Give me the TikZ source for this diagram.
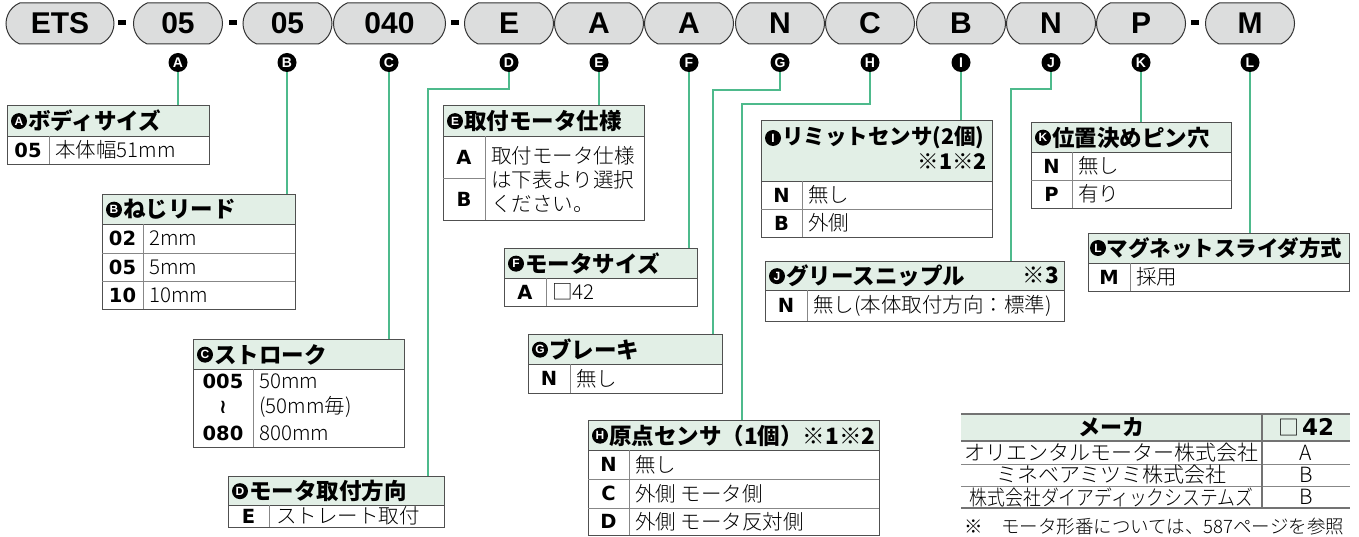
\documentclass[tikz,border=0pt]{standalone}
\usepackage{fontspec}
\usepackage{graphicx}
\usetikzlibrary{shapes.misc,shapes.geometric,calc}
\newfontfamily\jp{Noto Sans CJK JP}
\newfontfamily\jpl{Noto Sans CJK JP Light}
\newfontfamily\cdf{DejaVu Sans}
\newfontfamily\pf{Liberation Sans}
\definecolor{pillgray}{RGB}{220,221,221}
\definecolor{hdrgreen}{RGB}{226,239,230}
\definecolor{bord}{RGB}{80,80,80}
\definecolor{innergray}{RGB}{135,135,135}
\definecolor{leadgreen}{RGB}{78,186,140}
\newcommand{\tablebox}[7]{%
  \node[hbox, minimum width=#4, minimum height=#5] (h#1) at (#2,#3) {};
  \node[bbox, minimum width=#4, minimum height=#6] (b#1) at (#2,#3+#5) {};
  \draw[sep] (#7,#3+#5) -- (#7,#3+#5+#6);}
\newcommand{\htitle}[3][0]{%
  \node[badge] (k#2) at ($(h#2.west)+(12+#1,0)$) {#2};
  \node[htxt] (t#2) at ($(h#2.west)+(21+#1,0)$) {#3};}
\begin{document}
\begin{tikzpicture}[x=1pt,y=-1pt,
  pill/.style={rounded rectangle, rounded rectangle arc length=135, draw=black!80, line width=1,
    fill=pillgray, minimum width=89, minimum height=41, inner sep=0,
    font=\pf\bfseries\fontsize{30}{30}\selectfont},
  dashbar/.style={fill=black, minimum width=8, minimum height=5, inner sep=0},
  badgetop/.style={circle, fill=black, minimum size=19, inner sep=0,
    text=white, font=\pf\bfseries\fontsize{14}{14}\selectfont},
  badge/.style={circle, fill=black, minimum size=16, inner sep=0, text=white,
    font=\pf\bfseries\fontsize{12}{12}\selectfont},
  hbox/.style={draw=bord, line width=1.3, fill=hdrgreen, anchor=north west, inner sep=0},
  bbox/.style={draw=bord, line width=1.3, fill=white, anchor=north west, inner sep=0},
  htxt/.style={anchor=west, inner sep=0, font=\jp\bfseries\fontsize{22.5}{22.5}\selectfont},
  htxts/.style={htxt, font=\jp\bfseries\fontsize{21.5}{21.5}\selectfont},
  btxt/.style={anchor=west, inner sep=0, font=\jpl\fontsize{20.5}{20.5}\selectfont},
  ctxt/.style={inner sep=0, font=\cdf\bfseries\fontsize{19.5}{19.5}\selectfont},
  mtxt/.style={inner sep=0, font=\jpl\fontsize{21}{21}\selectfont},
  sep/.style={draw=innergray, line width=0.9},
  leader/.style={draw=leadgreen, line width=1.5},
]
\useasboundingbox (0,0) rectangle (1359,537);
% ---------- model code pills ----------
\node[pill, minimum width=108] (p1) at (60,23.5) {ETS};
\node[dashbar] (d1) at (122,22.5) {};
\node[pill] (p2) at (178,23.5) {05};
\node[dashbar] (d2) at (233,22.5) {};
\node[pill] (p3) at (287.5,23.5) {05};
\node[pill, minimum width=112] (p4) at (389.5,23.5) {040};
\node[dashbar] (d3) at (455,22.5) {};
\node[pill] (p5) at (509,23.5) {E};
\node[pill] (p6) at (599,23.5) {A};
\node[pill] (p7) at (689,23.5) {A};
\node[pill] (p8) at (780,23.5) {N};
\node[pill] (p9) at (870,23.5) {C};
\node[pill] (p10) at (961,23.5) {B};
\node[pill] (p11) at (1051,23.5) {N};
\node[pill] (p12) at (1141,23.5) {P};
\node[dashbar] (d4) at (1195,22.5) {};
\node[pill] (p13) at (1250,23.5) {M};
% ---------- circled letters ----------
\foreach \n/\x in {A/178,B/287,C/389,D/509,E/599,F/689,G/780,H/870,I/961,J/1051,K/1141,L/1250}
  \node[badgetop] (m\n) at (\x,62.5) {\n};
% ---------- A ----------
\tablebox{A}{7}{105}{202}{31}{28}{49}
\htitle{A}{ボディサイズ}
\node[ctxt] (cA1) at (28,150) {05};
\node[btxt] (vA1) at (55,150) {本体幅51mm};
% ---------- B ----------
\tablebox{B}{102}{194}{193}{30}{85}{143}
\draw[sep] (102,253) -- (295,253);
\draw[sep] (102,281) -- (295,281);
\htitle{B}{ねじリード}
\node[ctxt] (cB1) at (122.5,238.5) {02};
\node[ctxt] (cB2) at (122.5,267) {05};
\node[ctxt] (cB3) at (122.5,295) {10};
\node[btxt] (vB1) at (149,238.5) {2mm};
\node[btxt] (vB2) at (149,267) {5mm};
\node[btxt] (vB3) at (149,295) {10mm};
% ---------- C ----------
\tablebox{C}{193}{339}{211}{30}{78}{253}
\htitle{C}{ストローク}
\node[ctxt] (cC1) at (223,381) {005};
\node[ctxt] (cC2) at (223,407) {≀};
\node[ctxt] (cC3) at (223,433) {080};
\node[btxt] (vC1) at (259,381) {50mm};
\node[btxt] (vC2) at (259,407) {(50mm毎)};
\node[btxt] (vC3) at (259,433) {800mm};
% ---------- D ----------
\tablebox{D}{228}{476}{216}{29}{22}{269}
\htitle{D}{モータ取付方向}
\node[ctxt] (cD1) at (248.5,516) {E};
\node[btxt] (vD1) at (276,516) {ストレート取付};
% ---------- E ----------
\tablebox{E}{443}{105}{201}{31}{84}{485}
\draw[sep] (443,178) -- (485,178);
\htitle{E}{取付モータ仕様}
\node[ctxt] (cE1) at (464,157) {A};
\node[ctxt] (cE2) at (464,199) {B};
\node[btxt] (vE1) at (491,156) {取付モータ仕様};
\node[btxt] (vE2) at (491,180) {は下表より選択};
\node[btxt] (vE3) at (491,204) {ください。};
% ---------- F ----------
\tablebox{F}{504}{248}{193}{30}{28}{546}
\htitle{F}{モータサイズ}
\node[ctxt] (cF1) at (525,292) {A};
\node[btxt] (vF1) at (552,292) {□42};
% ---------- G ----------
\tablebox{G}{528}{334}{194}{30}{29}{570}
\htitle{G}{ブレーキ}
\node[ctxt] (cG1) at (549,378.5) {N};
\node[btxt] (vG1) at (576,378.5) {無し};
% ---------- H ----------
\tablebox{H}{588}{420}{291}{30}{85}{629}
\draw[sep] (588,479) -- (879,479);
\draw[sep] (588,508) -- (879,508);
\htitle{H}{原点センサ（1個）※1※2}
\node[ctxt] (cH1) at (608.5,464.5) {N};
\node[ctxt] (cH2) at (608.5,493.5) {C};
\node[ctxt] (cH3) at (608.5,521.5) {D};
\node[btxt] (vH1) at (635,464.5) {無し};
\node[btxt] (vH2) at (635,493.5) {外側 モータ側};
\node[btxt] (vH3) at (635,521.5) {外側 モータ反対側};
% ---------- I ----------
\tablebox{I}{761}{120}{231}{61}{56}{802}
\draw[sep] (761,209) -- (992,209);
\node[badge] (kI) at (773,138) {I};
\node[htxts] (tI) at (782,138) {リミットセンサ(2個)};
\node[htxts, anchor=east] (tI2) at (987,162) {※1※2};
\node[ctxt] (cI1) at (781.5,195) {N};
\node[ctxt] (cI2) at (781.5,223) {B};
\node[btxt] (vI1) at (808,195) {無し};
\node[btxt] (vI2) at (808,223) {外側};
% ---------- J ----------
\tablebox{J}{765}{261}{299}{29}{31}{807}
\htitle{J}{グリースニップル}
\node[htxt, anchor=east] (tJ2) at (1059,275.5) {※3};
\node[ctxt] (cJ1) at (786,305.5) {N};
\node[btxt] (vJ1) at (813,305.5) {無し(本体取付方向：標準)};
% ---------- K ----------
\tablebox{K}{1031}{122}{200}{30}{56}{1072}
\draw[sep] (1031,180) -- (1231,180);
\htitle{K}{位置決めピン穴}
\node[ctxt] (cK1) at (1051.5,166) {N};
\node[ctxt] (cK2) at (1051.5,194) {P};
\node[btxt] (vK1) at (1078,166) {無し};
\node[btxt] (vK2) at (1078,194) {有り};
% ---------- L ----------
\tablebox{L}{1088}{233}{261}{30}{28}{1130}
\node[badge] (kL) at (1098,248) {L};
\node[htxts] (tL) at (1106.5,248) {マグネットスライダ方式};
\node[ctxt] (cL1) at (1109,277) {M};
\node[btxt] (vL1) at (1136,277) {採用};
% ---------- connectors ----------
\coordinate (jD) at (428,89);
\coordinate (jG) at (713,90);
\coordinate (jH) at (742,104);
\coordinate (jJ) at (1011,89);
\draw[leader] (mA.south) -- (mA.south |- hA.north);
\draw[leader] (mB.south) -- (mB.south |- hB.north);
\draw[leader] (mC.south) -- (mC.south |- hC.north);
\draw[leader] (mD.south) |- (jD) -- (jD |- hD.north);
\draw[leader] (mE.south) -- (mE.south |- hE.north);
\draw[leader] (mF.south) -- (mF.south |- hF.north);
\draw[leader] (mG.south) |- (jG) -- (jG |- hG.north);
\draw[leader] (mH.south) |- (jH) -- (jH |- hH.north);
\draw[leader] (mI.south) -- (mI.south |- hI.north);
\draw[leader] (mJ.south) |- (jJ) -- (jJ |- hJ.north);
\draw[leader] (mK.south) -- (mK.south |- hK.north);
\draw[leader] (mL.south) -- (mL.south |- hL.north);
% ---------- maker table ----------
\node[fill=hdrgreen, anchor=north west, minimum width=389, minimum height=27, inner sep=0] (mh) at (961,414) {};
\draw[draw=bord!80, line width=1.8] (961,414) -- (1350,414);
\draw[draw=bord!80, line width=1.3] (961,441) -- (1350,441);
\draw[sep, line width=0.7] (961,464) -- (1350,464);
\draw[sep, line width=0.7] (961,486) -- (1350,486);
\draw[draw=bord!80, line width=1.8] (961,508) -- (1350,508);
\draw[draw=bord!80, line width=1.1] (1262,414) -- (1262,508);
\node[inner sep=0, font=\jp\bfseries\fontsize{22}{22}\selectfont] (mk) at (1111.5,427.5) {メーカ};
\node[inner sep=0] (mk42) at (1306,427.5) {{\jpl\fontsize{21}{21}\selectfont □}\hspace{3pt}{\cdf\bfseries\fontsize{23}{23}\selectfont 42}};
\node[mtxt] (r1) at (1111.5,452.5) {オリエンタルモーター株式会社};
\node[mtxt] (r2) at (1111.5,475) {ミネベアミツミ株式会社};
\node[mtxt] (r3) at (1111.5,497) {\scalebox{0.85}[1]{株式会社ダイアディックシステムズ}};
\node[mtxt] (s1) at (1306,452.5) {A};
\node[mtxt] (s2) at (1306,475) {B};
\node[mtxt] (s3) at (1306,497) {B};
\node[anchor=west, inner sep=0, font=\jpl\fontsize{18.5}{18.5}\selectfont] (note) at (964,527) {※　モータ形番については、587ページを参照};
\end{tikzpicture}
\end{document}
